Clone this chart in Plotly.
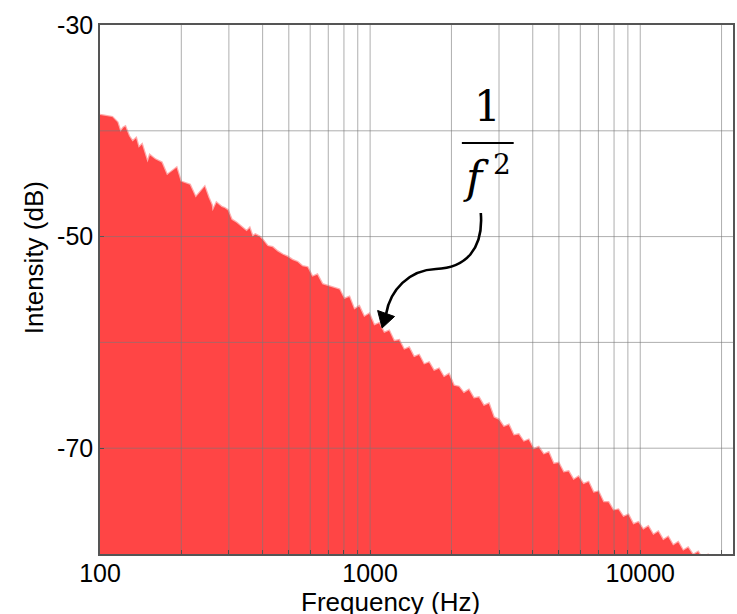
import math
import plotly.graph_objects as go

# ---------------- data ----------------
freq_hz = [100, 104, 111, 116, 119, 122, 124, 128, 132, 136, 139, 143, 147, 150, 153,
           160, 169, 177, 181, 192, 199, 215, 226, 234, 244, 252, 259, 261, 270, 282,
           289, 297, 307, 320, 337, 349, 358, 367, 376, 389, 400, 417, 435, 454, 474,
           494, 515, 538, 561, 586, 611, 637, 665, 706,
           769, 802, 837, 873, 911, 950, 992, 1035, 1079, 1126, 1175, 1226, 1279, 1335,
           1393, 1453, 1516, 1582, 1651, 1722, 1797, 1875, 1956, 2041, 2130, 2222, 2319,
           2419, 2525, 2634, 2749, 2868, 2992, 3122, 3258, 3399, 3547, 3701, 3861, 4029,
           4203, 4386, 4576, 4775, 4982, 5198, 5424, 5659, 5905, 6161, 6428, 6707, 6998,
           7302, 7619, 7949, 8294, 8654, 9030, 9422, 9830, 10257, 10700, 11165, 11650,
           12155, 12680, 13230, 13810, 14410, 15030, 15680, 16370, 17080, 17820, 18590,
           19400, 20240, 22050]

intensity_db = [-38.5, -38.6, -38.7, -39.2, -40.1, -39.7, -39.6, -40.5, -41.0, -40.7, -41.6,
                -41.3, -42.4, -43.0, -42.3, -42.7, -43.0, -44.2, -44.0, -43.5, -44.8, -45.1,
                -46.3, -45.8, -45.3, -46.3, -47.0, -47.6, -46.8, -47.2, -47.3, -47.5, -48.4,
                -48.7, -49.2, -49.5, -49.2, -50.0, -49.8, -50.0, -50.3, -50.9, -51.0, -51.4,
                -51.7, -51.9, -52.2, -52.4, -52.8, -52.9, -53.8, -53.6, -54.5, -54.7,
                -55.0, -55.9, -55.7, -56.9, -56.6, -57.6, -57.3, -58.4, -58.2, -59.1, -58.9,
                -59.9, -59.8, -60.7, -60.5, -61.4, -61.2, -62.1, -61.9, -62.7, -62.5, -63.3,
                -63.0, -64.1, -64.2, -64.8, -64.5, -65.3, -65.2, -66.0, -65.8, -67.1, -67.3,
                -68.0, -67.8, -68.8, -68.7, -69.4, -69.2, -70.1, -69.9, -70.6, -70.4, -71.5,
                -71.4, -72.3, -72.2, -73.0, -72.7, -73.4, -73.2, -74.2, -74.1, -75.1, -75.1,
                -75.9, -75.8, -76.5, -76.3, -77.2, -77.0, -77.7, -77.4, -78.2, -77.9, -78.7,
                -78.4, -79.2, -78.9, -79.7, -79.4, -80.1, -79.8, -80.6, -80.1, -80.8, -80.3,
                -81.0, -81.0]

x_range_hz = [100, 22050]
y_range_db = [-80, -30]
x_tick_vals = [100, 1000, 10000]
x_tick_text = ["100", "1000", "10000"]
y_tick_vals = [-30, -50, -70]
y_tick_text = ["-30", "-50", "-70"]
x_grid_hz = [200, 300, 400, 500, 600, 700, 800, 900, 1000,
             2000, 3000, 4000, 5000, 6000, 7000, 8000, 9000, 10000, 20000]
y_grid_db = [-40, -50, -60, -70]
x_title = "Frequency (Hz)"
y_title = "Intensity (dB)"

# ---------------- layout helpers ----------------
W, H = 737, 614
ML, MR, MT, MB = 100, 2, 25, 60
PW, PH = W - ML - MR, H - MT - MB


def px(xp):
    return (xp - ML) / PW


def py(yp):
    return 1 - (yp - MT) / PH


RED = "#FF4545"
FONT = "Liberation Sans, Arial, sans-serif"

fig = go.Figure()
fig.add_trace(go.Scatter(x=x_range_hz, y=[y_range_db[0] - 10] * 2, mode="lines",
                         line=dict(width=0, color=RED), showlegend=False, hoverinfo="skip"))
fig.add_trace(go.Scatter(x=freq_hz, y=intensity_db, mode="lines", fill="tonexty",
                         fillcolor=RED, line=dict(width=2.5, color="rgba(255,69,69,0.45)"),
                         showlegend=False))

shapes = []
for g in x_grid_hz:
    shapes.append(dict(type="line", xref="x", yref="paper", x0=g, x1=g, y0=0, y1=1,
                       line=dict(color="rgba(120,120,120,0.6)", width=1), layer="above"))
for g in y_grid_db:
    shapes.append(dict(type="line", xref="paper", yref="y", x0=0, x1=1, y0=g, y1=g,
                       line=dict(color="rgba(120,120,120,0.6)", width=1), layer="above"))

# fraction bar
shapes.append(dict(type="line", xref="paper", yref="paper", x0=px(463), x1=px(515),
                   y0=py(143), y1=py(143), line=dict(color="black", width=2.2)))


def P(a, b):
    return f"{px(a):.5f},{py(b):.5f}"


path = (f"M {P(482,213)} C {P(485,250)} {P(466,268)} {P(437,269)} "
        f"C {P(410,270)} {P(391,290)} {P(387,314)}")
shapes.append(dict(type="path", xref="paper", yref="paper", path=path,
                   line=dict(color="black", width=2.6)))
head = f"M {P(383,328)} L {P(378.5,310.5)} L {P(395.5,316.5)} Z"
shapes.append(dict(type="path", xref="paper", yref="paper", path=head,
                   fillcolor="black", line=dict(color="black", width=1)))

annotations = [
    dict(text="1", xref="paper", yref="paper", x=px(489), y=py(106), showarrow=False,
         font=dict(family="DejaVu Serif", size=42, color="black"),
         xanchor="center", yanchor="middle"),
    dict(text="<i>f</i>", xref="paper", yref="paper", x=px(477), y=py(177),
         showarrow=False, font=dict(family="DejaVu Serif", size=44, color="black"),
         xanchor="center", yanchor="middle"),
    dict(text="2", xref="paper", yref="paper", x=px(503), y=py(164),
         showarrow=False, font=dict(family="DejaVu Serif", size=28, color="black"),
         xanchor="center", yanchor="middle"),
    dict(text=x_title, xref="paper", yref="paper", x=px(391), y=py(602), showarrow=False,
         font=dict(family=FONT, size=26, color="black"), xanchor="center", yanchor="middle"),
    dict(text=y_title, xref="paper", yref="paper", x=px(34), y=py(258), showarrow=False,
         textangle=-90, font=dict(family=FONT, size=26, color="black"),
         xanchor="center", yanchor="middle"),
]

fig.update_layout(
    width=W, height=H, margin=dict(l=ML, r=MR, t=MT, b=MB),
    paper_bgcolor="white", plot_bgcolor="white",
    shapes=shapes, annotations=annotations, showlegend=False,
    xaxis=dict(type="log", range=[math.log10(x_range_hz[0]), math.log10(x_range_hz[1])],
               tickvals=x_tick_vals, ticktext=x_tick_text, showgrid=False, zeroline=False,
               showline=True, linecolor="#555", linewidth=1.5, mirror=True,
               ticks="inside", ticklen=4, tickcolor="#333", ticklabelstandoff=-4,
               tickfont=dict(family=FONT, size=25, color="black"),
               minor=dict(tickvals=x_grid_hz, ticks="inside", ticklen=4, tickcolor="#333",
                          showgrid=False)),
    yaxis=dict(range=y_range_db, tickvals=y_tick_vals, ticktext=y_tick_text,
               showgrid=False, zeroline=False, showline=True, linecolor="#555",
               linewidth=1.5, mirror=True, ticks="inside", ticklen=4, tickcolor="#333",
               tickfont=dict(family=FONT, size=25, color="black")),
)

fig.write_html("out.html")
